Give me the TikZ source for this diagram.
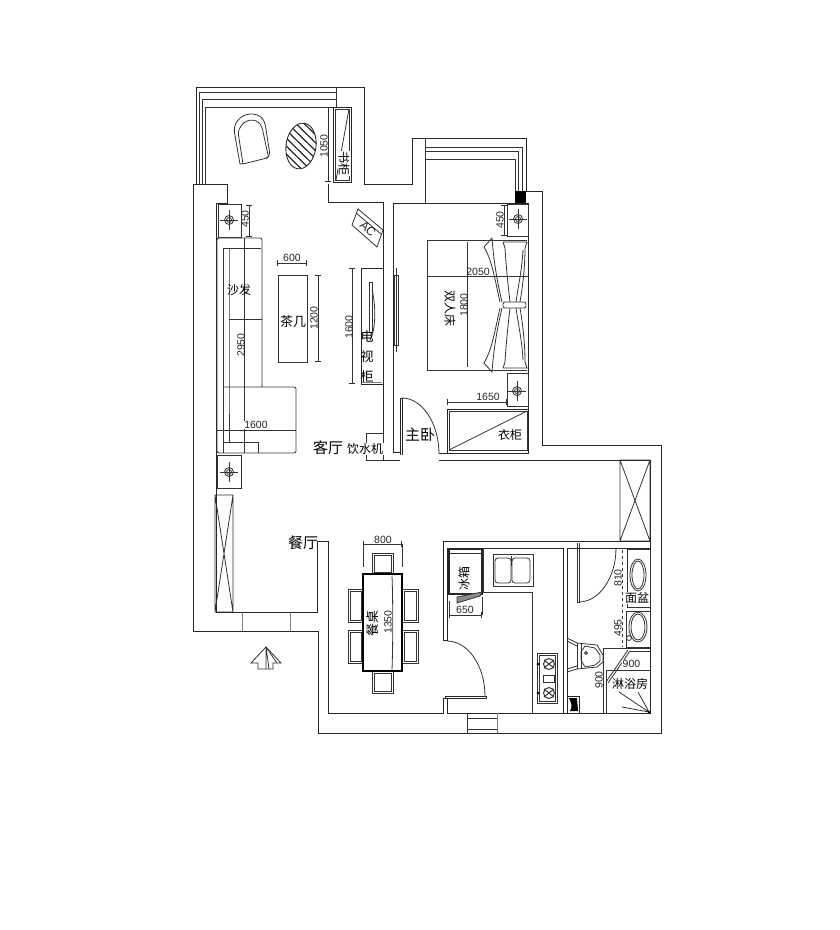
\documentclass[tikz,border=0pt]{standalone}
\usepackage{fontspec}
\setmainfont{Liberation Sans}
\newfontfamily\cjk{Noto Sans CJK SC}
\usetikzlibrary{shapes}
\tikzstyle{wall} = [draw=black!85, line width=0.85pt]
\tikzstyle{thin} = [draw=black!80, line width=0.8pt]
\tikzstyle{dimline} = [draw=black!80, line width=0.7pt, |-|]
\tikzstyle{num} = [inner sep=0pt, font=\fontsize{10.5}{10.5}\selectfont, text=black!85]
\tikzstyle{small} = [inner sep=0pt, font=\cjk\fontsize{12}{12}\selectfont]
\tikzstyle{room} = [inner sep=0pt, font=\cjk\fontsize{15}{15}\selectfont]
\tikzset{
  lamp/.pic={
    \draw[thin] (0,0) circle (2.5) (0,0) circle (4.5);
    \draw[thin] (-9,0) -- (9,0) (0,-10) -- (0,10);
  }
}
\begin{document}
\begin{tikzpicture}[x=1pt, y=-1pt]
    \useasboundingbox (0,0) rectangle (840,930);
    \fill[white] (0,0) rectangle (840,930);

    % walls
    \path[wall] (196,184) -- (196,87) -- (364,87) -- (364,184) -- (412,184) -- (412,138)
        -- (526,138) -- (526,191) -- (542,191) -- (542,445) -- (661,445) -- (661,733)
        -- (318,733) -- (318,631) -- (193,631) -- (193,184) -- (227,184) -- (227,203)
        -- (216,203) -- (216,612) -- (317,612) -- (317,541) -- (328,541) -- (328,713)
        -- (443,713) -- (443,698) -- (447,698) -- (447,713) -- (650,713) -- (650,460)
        -- (439,460);
    \path[wall] (328,184) -- (328,202) -- (383,202) -- (383,460) -- (400,460);
    \path[wall] (400,452) -- (393,452) -- (393,203) -- (528,203) -- (528,453) -- (439,453);
    \path[wall] (443,640) -- (443,541) -- (650,541);
    \path[wall] (443,640) -- (447,640) -- (447,548) -- (563,548) -- (563,713);
    \path[wall] (567,713) -- (567,548) -- (650,548);
    \path[wall] (445,696) -- (486,696) -- (486,698) -- (445,698) -- cycle;

    % balconies
    \path[thin] (199,184) -- (199,92) -- (336,92);
    \path[thin] (202,184) -- (202,99) -- (336,99);
    \path[thin] (205,184) -- (205,107) -- (333,107);
    \path[thin] (336,87) -- (336,107);
    \path[thin] (425,203) -- (425,138);
    \path[thin] (425,147) -- (522,147) -- (522,191);
    \path[thin] (425,151) -- (518,151) -- (518,191);
    \path[thin] (425,159) -- (515,159) -- (515,191);
    \fill[black] (515,191) rectangle (526,203);

    % windows and doors
    \path[thin] (215,495) rectangle (233,612) (215,495) -- (233,612) (233,495) -- (215,612);
    \path[thin, draw=black!50] (242,612) -- (242,631) (290,612) -- (290,631);
    \path[thin] (620,460) rectangle (650,541) (620,460) -- (650,541) (650,460) -- (620,541);
    \path[thin] (467,713) -- (467,733) (467,718) -- (497,718) (467,729) -- (497,729);
    \path[thin, draw=black!50] (497,713) -- (497,733);
    \path[wall] (400,455) -- (400,398) -- (402,398) -- (402,455);
    \path[thin] (402,398) .. controls (422,398) and (439,423) .. (439,454);
    \path[thin] (447,641) .. controls (468,641) and (485,666) .. (485,696);
    \path[thin] (577,543) -- (577,602) -- (579,602) -- (579,543);
    \path[thin] (579,602) .. controls (599,602) and (616,578) .. (616,548);

    % sofa
    \path[thin, rounded corners=2pt] (262,387) -- (262,238) -- (217,238) -- (217,453)
        -- (296,453) -- (296,387) -- (223,387);
    \path[thin] (223,453) -- (223,248) -- (261,248);
    \path[thin] (229,248) -- (229,387) -- (229,442);
    \path[thin] (229,319) -- (262,319);
    \path[thin] (244,238) -- (244,453);
    \path[thin] (217,430) -- (296,430);
    \path[thin] (223,442) -- (258,442) -- (258,453);
    \node[num, rotate=90] (sofalen) at (241,345) {2950};
    \node[num, fill=white, inner sep=0.5pt] (sofawide) at (256,425) {1600};
    \node[small] (sofa) at (239,290) {沙发};

    % lamp boxes
    \path[thin] (218,204) rectangle (241,237);
    \pic at (229,220) {lamp};
    \path[thin] (217,455) rectangle (241,488);
    \pic at (229,472) {lamp};
    \path[thin] (507,204) rectangle (528,236);
    \pic at (518,219) {lamp};
    \path[thin] (507,373) rectangle (528,406);
    \pic at (517,391) {lamp};
    \path[dimline] (249,205) -- (249,237);
    \path[dimline] (504,205) -- (504,236);
    \node[num, rotate=90] (lampa) at (245,219) {450};
    \node[num, rotate=90] (lampb) at (500,220) {450};

    % tea table
    \path[thin] (278,275) rectangle (307,362);
    \path[dimline] (277,263) -- (307,263);
    \path[dimline] (318,275) -- (318,362);
    \node[num] (teawide) at (292,258) {600};
    \node[num, rotate=90] (tealen) at (314,318) {1200};
    \node[small, font=\cjk\fontsize{13}{13}\selectfont] (tea) at (293,322) {茶几};

    % tv cabinet
    \path[wall] (361,268) rectangle (383,384);
    \path[thin, draw=black!50] (362,382.5) -- (382,382.5);
    \path[thin] (369,282) -- (369,332) -- (372,332) -- (372,282) -- cycle;
    \path[thin] (372,290) .. controls (376,305) and (376,330) .. (370,340);
    \path[dimline] (352,268) -- (352,384);
    \node[num, rotate=90] (tvlen) at (349,327) {1600};
    \node[small, align=center, font=\cjk\fontsize{13}{20}\selectfont] (tv) at (367,357) {电\\视\\柜};
    \path[thin] (394,275) -- (394,345) -- (398,345) -- (398,275) -- cycle;
    \path[thin] (396,352) -- (396,268);

    % ac
    \path[thin] (358,209) -- (383,230) -- (377,247) -- (352,225) -- cycle;
    \path[thin] (356,213) -- (381,234);
    \node[num, rotate=-42, font=\fontsize{12}{12}\selectfont] (ac) at (368,229) {AC};

    % balcony furniture
    \path[thin, rounded corners=3pt] (240,164) -- (234,130) .. controls (238,112) and (258,110) .. (265,123)
        -- (270,155) -- (267,158) -- (243,164) -- (240,164);
    \path[thin, rounded corners=3pt] (243,164) -- (238,132) .. controls (244,118) and (256,118) .. (262,127)
        -- (268,155);
    \path[wall, rotate around={-8:(301,146)}] (301,146) ellipse (15 and 23);
    \begin{scope}
        \clip[rotate around={-8:(301,146)}] (301,146) ellipse (15 and 23);
        \foreach \h in {-24,-16,...,30}
            \draw[black!85, line width=1.2pt] (280,124+\h) -- (325,168+\h);
    \end{scope}
    \path[wall] (333,107) rectangle (351,182);
    \path[thin] (335,109) rectangle (349,180);
    \path[thin] (349,109) -- (336,180);
    \path[dimline] (328,107) -- (328,182);
    \node[num, rotate=90] (booklen) at (324,146) {1050};
    \node[small, rotate=-90, fill=white, inner sep=0.5pt] (book) at (344,163) {书柜};

    % bed
    \path[thin] (527,240) -- (427,240) -- (427,370) -- (527,370);
    \path[thin] (467,242) -- (467,367);
    \path[thin] (427,276) -- (528,276);
    \node[num, anchor=south] (bedlen) at (478,275.5) {2050};
    \node[num, rotate=90] (bedwide) at (464,305) {1800};
    \node[small, rotate=-90] (bed) at (450,308) {双人床};
    \foreach \s in {1,-1} {
        \begin{scope}[shift={(0,305)}, yscale=\s]
            \path[thin] (484,-58) -- (492,-67) .. controls (494,-40) and (498,-20) .. (502,-3);
            \path[thin] (484,-58) .. controls (492,-45) and (495,-25) .. (500,-3);
            \path[thin] (503,-63) -- (527,-63) -- (525,-57) .. controls (525,-40) and (523,-20) .. (520,-3);
            \path[thin] (503,-63) -- (505,-57) .. controls (506,-40) and (508,-20) .. (510,-3);
            \path[thin] (523,-55) .. controls (522,-35) and (518,-18) .. (516,-3);
        \end{scope}
    }
    \path[thin, fill=white, rounded corners=2pt] (503,302) -- (526,302) -- (526,308) -- (503,308) -- cycle;

    % wardrobe
    \path[wall] (447,409) rectangle (528,453);
    \path[thin] (449,411) rectangle (527,450);
    \path[thin] (449,450) -- (527,411);
    \path[dimline] (447,402) -- (507,402);
    \node[num, anchor=south] (wardlen) at (488,401) {1650};
    \node[small] (ward) at (510,435) {衣柜};

    % water dispenser
    \path[thin] (366,433) rectangle (383,460);
    \node[small, fill=white, inner sep=0.5pt] (water) at (365,449) {饮水机};

    % dining set
    \foreach \a/\b/\c/\d in {372/553/393/574, 372/671/393/693, 348/589/363/622, 348/630/363/663,
        402/589/418/622, 402/630/418/663} {
        \path[thin] (\a,\b) rectangle (\c,\d);
        \path[thin] (\a+2,\b+2) rectangle (\c-2,\d-2);
    }
    \path[draw=black, line width=1.6pt, fill=white] (363,574) rectangle (402,671);
    \path[dimline] (363,544) -- (402,544);
    \path[thin] (363,544) -- (363,567) (402,544) -- (402,567);
    \path[thin] (392,576) .. controls (393,600) and (393,645) .. (392,670);
    \node[num] (tablewide) at (383,540) {800};
    \node[num, rotate=90, fill=white, inner sep=0.5pt] (tablelen) at (388,622) {1350};
    \node[small, rotate=90, font=\cjk\fontsize{13}{13}\selectfont] (table) at (373,623) {餐桌};

    % kitchen
    \path[wall, line width=1.2pt] (449,549) rectangle (482,594);
    \path[thin] (450,553) -- (481,553);
    \path[thin, fill=black!45] (457,597) -- (482,592) -- (480,596) -- (457,603) -- cycle;
    \path[dimline] (449,615) -- (482,615);
    \path[thin] (449,601) -- (449,615) (482,597) -- (482,615);
    \node[num] (fridgewide) at (465,610) {650};
    \node[small, rotate=90] (fridge) at (464,578) {冰箱};
    \path[thin] (483,548) -- (483,592) -- (532,592) -- (532,713);
    \path[thin] (493,554) rectangle (533,586);
    \path[thin, rounded corners=3pt] (495,558) rectangle (511,583);
    \path[thin, rounded corners=3pt] (512,558) rectangle (530,583);
    \path[thin] (511,556) -- (511,566);
    \path[thin] (537,653) rectangle (557,703);
    \path[thin] (539,655) rectangle (555,701);
    \path[thin] (543,675) rectangle (554,682);
    \foreach \y in {664,693} {
        \draw[black!80, line width=1pt] (549,\y) circle (5.5);
        \draw[black!80, line width=1pt] (544,\y-4) -- (554,\y+4) (544,\y+4) -- (554,\y-4);
        \fill[black] (538,\y) circle (1.5);
    }

    % bathroom
    \path[thin] (627,549) rectangle (650,607);
    \path[thin] (638,575) ellipse (8 and 16);
    \path[thin] (638,575) ellipse (6 and 14);
    \node[small, fill=white, inner sep=0.5pt] (basin) at (637,598) {面盆};
    \path[thin] (626,611) rectangle (650,647);
    \path[thin] (638,627) ellipse (9 and 15);
    \path[thin] (638,627) ellipse (7 and 13);
    \path[thin] (629,638) circle (2.5);
    \path[thin, dashed] (622,550) -- (622,647);
    \node[num, rotate=90] (basinlen) at (618,578) {810};
    \node[num, rotate=90] (sinklen) at (618,628) {495};

    \path[thin] (603,713) -- (603,648) -- (650,648);
    \path[thin] (630,651) -- (650,651);
    \path[thin] (606,713) -- (606,670) -- (650,670);
    \path[thin] (606,682) -- (628,650) (608,683) -- (630,651);
    \node[num, anchor=west, fill=white, inner sep=0.5pt] (showerw) at (622,664) {900};
    \node[num, rotate=90] (showerl) at (599,680) {900};
    \node[small, fill=white, inner sep=0.5pt] (shower) at (630,684) {淋浴房};
    \path[thin] (649,712) -- (622,707) (649,712) -- (638,692) (649,712) -- (619,692);
    \fill[black] (649,712) circle (1.5);

    % toilet
    \path[thin] (567,638) -- (577,643) -- (597,645) -- (603,655) -- (603,662) -- (597,667) -- (577,669) -- (567,672);
    \path[thin] (567,641) -- (577,646) (567,669) -- (577,666);
    \path[thin] (577,643) -- (577,669) (581,644) -- (581,668);
    \path[thin] (585,646) -- (595,648) -- (600,655) -- (600,661) -- (595,665) -- (585,667) -- (581,660) -- (581,652) -- cycle;
    \path[thin] (586,653) circle (1.5);

    \path[wall] (567,696) rectangle (579,713);
    \fill[black] (569,698) -- (577,698) -- (578,711) -- (570,711) .. controls (573,707) and (571,702) .. (569,698);

    % room labels
    \node[room] (living) at (328,448) {客厅};
    \node[room] (master) at (420,435) {主卧};
    \node[room] (dining) at (303,543) {餐厅};

    % north arrow
    \path[thin, fill=white] (266,647) -- (281,663) -- (273,663) -- (273,669) -- (258,669) -- (258,663) -- (251,663) -- cycle;
    \path[thin] (266,647) -- (266,669) (266,647) -- (269,669) (266,647) -- (277,663);
\end{tikzpicture}
\end{document}
